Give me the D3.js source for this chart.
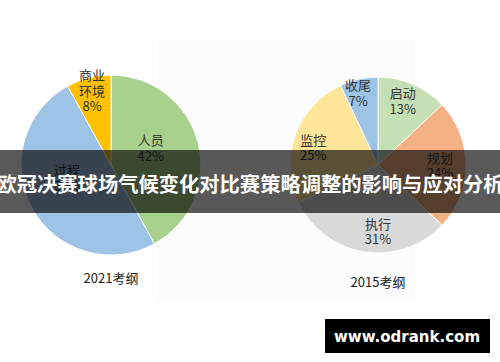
<!DOCTYPE html>
<html>
<head>
<meta charset="utf-8">
<script src="https://cdn.jsdelivr.net/npm/d3@7"></script>
<style>
  body { margin: 0; background: #fff; }
  svg { display: block; font-family: "Noto Sans CJK SC", "Noto Sans", sans-serif; }
</style>
</head>
<body>
<svg id="chart" width="500" height="362"></svg>
<script>
// 2021 outline
const cats2021 = ["人员", "过程", "商业\n环境"];
const vals2021 = [42, 50, 8];
const cols2021 = ["#a9d18e", "#9dc3e6", "#ffc000"];

// 2015 outline
const cats2015 = ["启动", "规划", "执行", "监控", "收尾"];
const vals2015 = [13, 24, 31, 25, 7];
const cols2015 = ["#c5e0b4", "#f4b183", "#d9d9d9", "#ffe699", "#9dc3e6"];

const captions = ["2021考纲", "2015考纲"];
const bannerText = "欧冠决赛球场气候变化对比赛策略调整的影响与应对分析";
const siteText = "www.odrank.com";

const svg = d3.select("#chart");

// faint backdrop behind the middle part of the picture
svg.append("rect")
	.attr("x", 157).attr("y", 40).attr("width", 258).attr("height", 260)
	.attr("fill", "#fcfcfc");

// labelR: distance of each label from the centre, nudge: degrees added to the slice mid angle
function drawPie(cx, cy, r, cats, vals, cols, labelR, nudge, caption, capY) {
	const g = svg.append("g").attr("transform", "translate(" + cx + "," + cy + ")");
	const pie = d3.pie().sort(null).value(d => d.v);
	const data = pie(vals.map((v, i) => ({ v: v, c: cats[i], col: cols[i] })));
	const arc = d3.arc().innerRadius(0).outerRadius(r);
	g.selectAll("path")
		.data(data)
		.enter()
		.append("path")
		.attr("d", arc)
		.attr("fill", d => d.data.col)
		.attr("stroke", "#fff")
		.attr("stroke-width", 1);

	const lab = g.selectAll(".lab")
		.data(data)
		.enter()
		.append("text")
		.attr("class", "lab")
		.attr("text-anchor", "middle")
		.attr("font-size", 13)
		.attr("fill", "#333")
		.attr("transform", function(d, i) {
			const lr = labelR[i];
			const a = (d.startAngle + d.endAngle) / 2 + nudge[i] * Math.PI / 180;
			return "translate(" + (Math.sin(a) * lr) + "," + (-Math.cos(a) * lr) + ")";
		});
	lab.each(function(d) {
		const lines = d.data.c.split("\n").concat([d.data.v + "%"]);
		const t = d3.select(this);
		const start = -(lines.length - 1) * 15.5 / 2 + 4.5;
		lines.forEach(function(s, k) {
			t.append("tspan").attr("x", 0).attr("y", start + k * 15.5).text(s);
		});
	});

	svg.append("text")
		.attr("x", cx).attr("y", capY)
		.attr("text-anchor", "middle")
		.attr("font-size", 13)
		.attr("fill", "#222")
		.text(caption);
}

drawPie(111, 165, 90, cats2021, vals2021, cols2021, [43, 46, 76], [-8, 12, 0], captions[0], 283);
drawPie(378, 165, 88, cats2015, vals2015, cols2015, [68, 62, 67, 67, 74], [-2, 1, -9, -5, -3], captions[1], 287);

// banner across the middle
svg.append("rect")
	.attr("x", 0).attr("y", 150).attr("width", 500).attr("height", 63)
	.attr("fill", "rgba(0,0,0,0.65)");
svg.append("text")
	.attr("x", 250).attr("y", 192)
	.attr("text-anchor", "middle")
	.attr("font-size", 20.3)
	.attr("font-weight", "bold")
	.attr("fill", "#fff")
	.text(bannerText);

// site box
svg.append("rect")
	.attr("x", 325).attr("y", 319).attr("width", 165).attr("height", 34)
	.attr("fill", "#000");
svg.append("text")
	.attr("x", 407).attr("y", 342)
	.attr("text-anchor", "middle")
	.attr("font-size", 15)
	.attr("font-weight", "bold")
	.attr("font-family", "'DejaVu Sans', sans-serif")
	.attr("fill", "#fff")
	.text(siteText);
</script>
</body>
</html>
